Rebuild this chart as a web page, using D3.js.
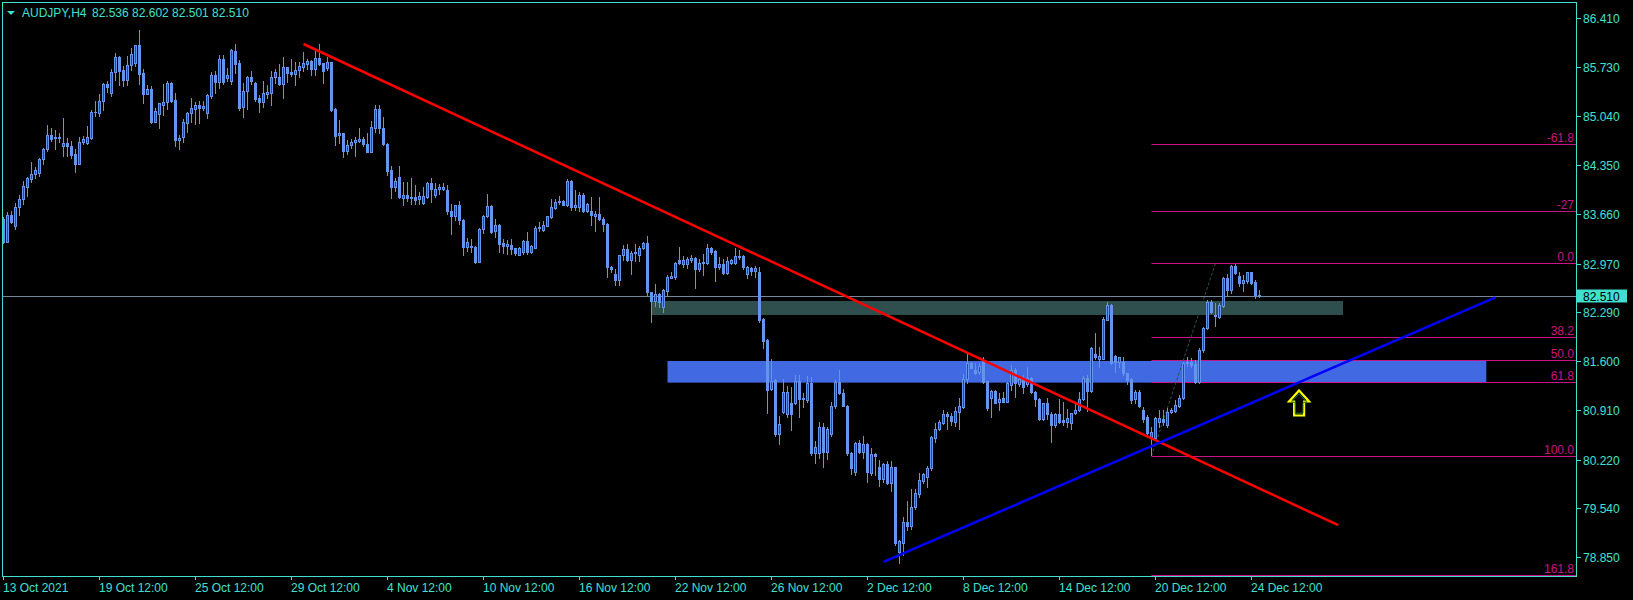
<!DOCTYPE html>
<html><head><meta charset="utf-8">
<script src="https://cdn.jsdelivr.net/npm/d3@7"></script>
<style>
body{margin:0;background:#000;overflow:hidden}
svg{display:block}
text{font-family:"Liberation Sans",Arial,sans-serif;font-size:12px}
</style>
</head><body>
<svg id="c" width="1633" height="600"></svg>
<script>
const symbolTitle = "AUDJPY,H4";
const headerOHLC = ["82.536","82.602","82.501","82.510"];
const lastPrice = 82.510;

const opens = [83.591,83.278,83.647,83.502,83.759,83.872,84.049,84.161,84.222,84.245,
84.432,84.572,84.768,84.750,84.741,84.624,84.657,84.620,84.508,84.371,
84.681,84.666,84.736,85.092,85.087,85.246,85.489,85.367,85.652,85.863,
85.686,85.545,85.751,85.788,86.036,85.638,85.353,85.414,84.961,85.073,
85.199,85.236,85.503,85.264,84.708,84.741,84.946,85.078,85.143,85.194,
85.152,85.087,85.321,85.610,85.517,85.840,85.578,85.536,85.947,85.784,
85.162,85.386,85.587,85.503,85.292,85.241,85.353,85.367,85.582,85.582,
85.484,85.722,85.657,85.634,85.681,85.722,85.765,85.811,85.699,85.854,
85.784,85.709,85.797,85.138,84.769,84.797,84.554,84.629,84.675,84.690,
84.718,84.648,84.540,84.876,85.138,84.872,84.647,84.283,84.049,84.180,
83.894,83.932,83.890,83.909,83.871,83.815,83.909,84.100,83.937,84.012,
84.021,84.002,83.708,83.642,83.787,83.582,83.207,83.221,83.207,82.997,
83.451,83.633,83.778,83.423,83.516,83.259,83.222,83.226,83.184,83.095,
83.128,83.287,83.128,83.194,83.469,83.441,83.502,83.624,83.754,83.829,
83.848,83.792,84.129,83.764,83.768,83.937,83.712,83.712,83.638,83.666,
83.596,83.525,82.922,82.824,82.740,83.086,83.175,83.020,83.123,83.095,
83.194,83.259,82.567,82.445,82.539,82.366,82.590,82.773,82.782,83.020,
82.964,82.964,83.025,83.048,82.899,82.978,82.983,83.184,83.147,82.918,
82.964,82.833,82.974,82.983,83.081,83.077,82.829,82.904,82.871,82.857,
82.193,81.898,81.211,81.333,80.580,80.893,80.861,81.019,81.010,81.328,
81.071,81.052,81.295,80.318,80.318,80.674,80.323,80.575,80.968,81.305,
81.150,80.977,80.309,80.042,80.458,80.323,80.444,80.028,80.295,80.122,
79.954,80.155,79.897,80.113,78.925,79.047,79.341,79.290,79.552,79.739,
79.926,79.982,80.099,80.519,80.645,80.739,80.861,80.833,80.748,80.889,
80.963,81.356,81.571,81.478,81.450,81.618,81.319,81.080,81.178,81.024,
81.090,81.034,81.263,81.478,81.281,81.370,81.281,81.370,81.174,81.066,
80.795,81.010,80.861,80.706,80.865,80.776,80.744,80.739,80.870,80.917,
81.066,81.370,81.183,81.702,81.637,81.637,82.179,82.385,81.679,81.595,
81.595,81.431,81.347,81.066,81.169,80.917,80.823,80.543,80.520,80.753,
80.786,80.702,80.893,80.907,80.978,81.080,81.571,81.595,81.562,81.314,
81.758,82.062,82.436,82.249,82.226,82.380,82.763,82.600,82.941,82.796,
82.702,82.726,82.848,82.707,82.536];

const highs = [83.628,83.694,83.707,83.820,83.932,84.124,84.190,84.390,84.325,84.451,
84.591,84.909,84.872,84.839,84.806,85.012,84.732,84.690,84.572,84.750,
84.764,84.900,85.124,85.251,85.349,85.508,85.531,85.699,85.924,85.886,
85.746,85.882,85.989,86.040,86.246,85.695,85.470,85.461,85.148,85.227,
85.489,85.531,85.512,85.358,84.768,84.998,85.101,85.292,85.236,85.251,
85.246,85.344,85.657,85.671,85.900,85.896,85.709,85.980,86.050,85.826,
85.498,85.606,85.671,85.512,85.330,85.526,85.480,85.671,85.695,85.769,
85.868,85.732,85.840,85.797,85.797,85.938,85.835,85.826,85.970,86.050,
85.790,85.863,85.800,85.148,84.984,84.800,84.699,84.718,84.741,84.867,
84.746,84.802,84.970,85.190,85.199,85.021,84.657,84.339,84.175,84.339,
84.119,84.119,84.171,84.072,83.979,84.049,84.114,84.171,84.096,84.091,
84.096,84.068,83.806,83.792,83.848,83.591,83.329,83.320,83.217,83.465,
83.652,83.946,83.787,83.600,83.526,83.320,83.301,83.315,83.190,83.198,
83.296,83.413,83.231,83.493,83.553,83.567,83.642,83.876,83.871,83.918,
83.862,84.161,84.143,84.002,83.979,83.955,83.825,83.899,83.712,83.899,
83.619,83.544,82.941,82.894,83.095,83.226,83.245,83.151,83.245,83.222,
83.268,83.357,82.576,82.684,82.553,82.609,82.815,82.852,82.997,83.203,
83.077,83.067,83.091,83.067,83.030,83.109,83.245,83.198,83.156,83.067,
83.030,83.067,83.039,83.184,83.156,83.091,82.941,82.927,82.941,82.927,
82.202,81.908,81.627,81.347,80.828,81.351,81.253,81.244,81.408,81.408,
81.150,81.398,81.384,80.482,80.748,80.739,80.674,81.024,81.337,81.478,
81.211,80.987,80.323,80.473,80.496,80.552,80.454,80.388,80.318,80.211,
80.178,80.206,80.206,80.122,79.093,79.421,79.640,79.813,79.804,80.028,
80.038,80.131,80.552,80.730,80.776,80.917,80.893,80.870,80.963,81.080,
81.422,81.711,81.595,81.571,81.571,81.655,81.328,81.197,81.197,81.150,
81.174,81.314,81.543,81.501,81.375,81.408,81.524,81.380,81.183,81.080,
81.019,81.080,80.893,80.879,81.066,81.034,80.926,80.870,81.010,81.174,
81.394,81.408,81.805,82.001,81.796,82.216,82.431,82.399,81.693,81.665,
81.655,81.440,81.361,81.197,81.197,80.964,80.847,80.683,80.823,80.917,
80.917,80.940,80.940,81.057,81.127,81.595,81.665,81.641,81.618,81.782,
82.076,82.459,82.459,82.413,82.420,82.777,82.824,82.950,82.964,82.857,
82.810,82.857,82.852,82.740,82.602];

const lows = [83.264,83.270,83.535,83.460,83.656,83.801,83.923,84.114,84.175,84.203,
84.362,84.553,84.694,84.582,84.671,84.484,84.484,84.456,84.260,84.362,
84.647,84.643,84.722,85.045,85.045,85.124,85.381,85.321,85.545,85.480,
85.466,85.480,85.686,85.746,85.494,85.227,85.349,84.937,84.950,84.876,
85.059,85.143,85.236,84.624,84.582,84.676,84.816,84.951,84.932,84.937,
85.124,85.017,85.292,85.367,85.428,85.484,85.531,85.484,85.643,85.120,
85.031,85.138,85.489,85.250,85.096,85.171,85.292,85.199,85.503,85.480,
85.292,85.512,85.596,85.475,85.582,85.671,85.699,85.610,85.615,85.760,
85.508,85.690,85.115,84.633,84.657,84.470,84.512,84.596,84.484,84.671,
84.615,84.535,84.531,84.820,84.806,84.633,84.213,83.885,83.988,83.885,
83.797,83.843,83.806,83.811,83.802,83.811,83.895,83.834,83.909,83.946,
84.002,83.661,83.390,83.582,83.521,83.091,83.151,83.137,82.978,82.990,
83.394,83.619,83.399,83.348,83.133,83.114,83.100,83.100,83.095,83.086,
83.100,83.100,83.114,83.184,83.422,83.427,83.493,83.605,83.740,83.801,
83.787,83.782,83.726,83.726,83.708,83.698,83.698,83.516,83.432,83.582,
83.432,82.787,82.852,82.665,82.665,83.020,83.002,82.824,83.006,83.011,
83.170,82.530,82.150,82.380,82.366,82.296,82.525,82.768,82.759,82.964,
82.918,82.908,82.993,82.628,82.871,82.810,82.964,83.105,82.731,82.890,
82.819,82.819,82.964,82.969,83.034,82.890,82.763,82.810,82.787,82.156,
81.791,80.879,81.197,80.552,80.444,80.879,80.814,80.636,81.005,80.814,
80.963,81.024,80.286,80.169,80.239,80.113,80.234,80.552,80.940,81.141,
80.973,80.286,80.019,80.005,80.309,80.239,79.902,80.005,80.005,79.855,
79.902,79.879,79.781,79.023,78.775,78.883,79.234,79.248,79.524,79.702,
79.888,79.842,80.075,80.472,80.636,80.720,80.645,80.706,80.692,80.655,
80.940,81.291,81.501,81.422,81.422,81.291,80.917,80.823,81.010,80.917,
81.030,81.029,81.197,81.094,81.258,81.150,81.258,81.160,80.978,80.776,
80.776,80.786,80.463,80.683,80.730,80.706,80.683,80.646,80.861,80.907,
81.057,80.907,81.174,81.637,81.515,81.632,82.174,81.562,81.454,81.525,
81.408,81.281,81.010,81.010,80.964,80.753,80.543,80.286,80.496,80.683,
80.706,80.683,80.870,80.893,80.964,81.066,81.534,81.524,81.291,81.300,
81.735,82.048,82.282,82.100,82.200,82.366,82.534,82.562,82.824,82.661,
82.590,82.702,82.684,82.492,82.501];

const closes = [83.278,83.647,83.553,83.759,83.876,84.058,84.171,84.222,84.283,84.432,
84.572,84.768,84.718,84.727,84.735,84.657,84.624,84.497,84.371,84.671,
84.718,84.741,85.092,85.090,85.246,85.484,85.452,85.652,85.863,85.676,
85.545,85.751,85.905,86.036,85.634,85.353,85.414,84.961,85.110,85.218,
85.236,85.498,85.250,84.708,84.736,84.956,85.082,85.148,85.199,85.152,
85.180,85.330,85.610,85.517,85.840,85.522,85.615,85.966,85.774,85.152,
85.395,85.587,85.531,85.278,85.241,85.358,85.381,85.587,85.652,85.484,
85.722,85.648,85.634,85.686,85.741,85.779,85.811,85.704,85.849,85.774,
85.671,85.793,85.129,84.760,84.802,84.554,84.629,84.675,84.699,84.718,
84.643,84.540,84.886,85.138,84.872,84.647,84.273,84.049,84.129,83.899,
83.932,83.890,83.909,83.862,83.913,83.923,84.100,84.021,84.021,84.044,
84.049,83.712,83.642,83.787,83.582,83.207,83.273,83.198,82.997,83.455,
83.633,83.778,83.418,83.516,83.250,83.222,83.241,83.179,83.123,83.189,
83.287,83.128,83.222,83.469,83.488,83.516,83.633,83.768,83.834,83.848,
83.796,84.129,83.768,83.796,83.937,83.712,83.811,83.647,83.670,83.596,
83.525,82.918,82.890,82.740,83.086,83.175,83.020,83.123,83.133,83.189,
83.259,82.567,82.445,82.539,82.436,82.600,82.787,82.801,82.983,82.983,
83.020,83.034,83.048,82.894,82.978,82.997,83.184,83.133,82.918,82.964,
82.833,83.002,83.020,83.081,83.063,82.927,82.927,82.866,82.913,82.179,
81.889,81.197,81.328,80.580,80.720,81.164,81.169,80.861,81.328,81.071,
81.080,81.295,80.318,80.393,80.674,80.323,80.650,80.968,81.305,81.150,
80.977,80.309,80.099,80.458,80.323,80.435,80.042,80.295,80.276,79.954,
80.155,79.888,80.113,79.047,79.075,79.346,79.290,79.552,79.748,79.935,
80.019,80.099,80.533,80.645,80.748,80.861,80.837,80.767,80.898,80.973,
81.356,81.571,81.510,81.440,81.538,81.309,80.940,81.178,81.019,81.071,
81.034,81.291,81.478,81.291,81.351,81.244,81.370,81.174,81.066,80.795,
81.010,80.861,80.706,80.865,80.753,80.753,80.809,80.870,80.917,81.066,
81.370,81.188,81.791,81.655,81.674,82.188,82.385,81.571,81.595,81.655,
81.431,81.338,81.057,81.169,80.978,80.795,80.590,80.613,80.800,80.800,
80.753,80.893,80.921,80.987,81.080,81.571,81.595,81.548,81.314,81.758,
82.062,82.427,82.296,82.235,82.389,82.763,82.600,82.936,82.838,82.693,
82.735,82.848,82.693,82.530,82.510];

const priceTicks = [86.410,85.730,85.040,84.350,83.660,82.970,82.290,81.600,80.910,80.220,79.540,78.850];
const timeTickBars = [0,24,48,72,96,120,144,168,192,216,240,264,288,312];
const timeLabels = ["13 Oct 2021","19 Oct 12:00","25 Oct 12:00","29 Oct 12:00","4 Nov 12:00","10 Nov 12:00","16 Nov 12:00","22 Nov 12:00","26 Nov 12:00","2 Dec 12:00","8 Dec 12:00","14 Dec 12:00","20 Dec 12:00","24 Dec 12:00"];

const fibLevels = [-61.8,-27,0,38.2,50,61.8,100,161.8];
const fibLabels = ["-61.8","-27","0.0","38.2","50.0","61.8","100.0","161.8"];
const fibStartBar = 287, fibStartPrice = 80.271;
const fibEndBar = 303, fibEndPrice = 82.974;

const redTrendBars = [75, 333.7];
const redTrendPrices = [86.05, 79.30];
const blueTrendBars = [220, 373];
const blueTrendPrices = [78.785, 82.495];

const grayZoneBars = [162, 335];
const grayZonePrices = [82.445, 82.249];
const blueZoneBars = [166, 370.7];
const blueZonePrices = [81.604, 81.300];

const arrowBar = 323.9, arrowPrice = 81.19;

// ---------- drawing ----------
const W = 1633, H = 600;
const plotL = 3, plotR = 1576, plotT = 2, plotB = 576;
const AX = "#40E0D0";
const svg = d3.select("#c");
svg.append("rect").attr("width",W).attr("height",H).attr("fill","#000");

const x = d3.scaleLinear().domain([0,1]).range([3.5,7.5]);
const y = d3.scaleLinear().domain([78.588,86.639]).range([plotB,plotT]);

svg.append("clipPath").attr("id","plot").append("rect")
  .attr("x",plotL).attr("y",plotT+1).attr("width",plotR-plotL).attr("height",plotB-plotT-1);
const g = svg.append("g").attr("clip-path","url(#plot)");

// background zones
g.append("rect").attr("x",x(grayZoneBars[0])-0.5).attr("width",x(grayZoneBars[1])-x(grayZoneBars[0]))
  .attr("y",y(grayZonePrices[0])).attr("height",y(grayZonePrices[1])-y(grayZonePrices[0]))
  .attr("fill","#2F4F4F");
g.append("rect").attr("x",x(blueZoneBars[0])).attr("width",x(blueZoneBars[1])-x(blueZoneBars[0]))
  .attr("y",y(blueZonePrices[0])).attr("height",y(blueZonePrices[1])-y(blueZonePrices[0]))
  .attr("fill","#4169E1");

// fib levels
const fibRange = fibEndPrice - fibStartPrice;
fibLevels.forEach((lv,k)=>{
  const p = fibEndPrice - lv/100*fibRange;
  const yy = Math.round(y(p))+0.5;
  g.append("line").attr("x1",x(fibStartBar)).attr("x2",plotR).attr("y1",yy).attr("y2",yy)
    .attr("stroke","#C71585").attr("stroke-width",1);
  g.append("text").attr("x",plotR-2).attr("y",yy-3).attr("text-anchor","end")
    .attr("fill","#C71585").text(fibLabels[k]);
});
g.append("line").attr("x1",x(fibStartBar)).attr("y1",y(fibStartPrice))
  .attr("x2",x(fibEndBar)).attr("y2",y(fibEndPrice))
  .attr("stroke","#2F4F4F").attr("stroke-width",1).attr("stroke-dasharray","3,2");

// current price line
const yl = Math.round(y(lastPrice))+0.5;
g.append("line").attr("x1",plotL).attr("x2",plotR).attr("y1",yl).attr("y2",yl)
  .attr("stroke","#778899").attr("stroke-width",1);

// candles
const CF = "#6495ED", BULL_IN = "#1a3cff";
const cg = g.append("g").attr("shape-rendering","crispEdges");
opens.forEach((o,i)=>{
  const c = closes[i], hi = highs[i], lo = lows[i];
  const cx = x(i);
  const yh = Math.round(y(hi)), ylo = Math.round(y(lo));
  cg.append("rect").attr("x",cx-0.5).attr("width",1).attr("y",yh).attr("height",Math.max(1,ylo-yh+1)).attr("fill",CF);
  const yt = Math.round(y(Math.max(o,c))), yb = Math.round(y(Math.min(o,c)));
  const h = Math.max(1,yb-yt+1);
  cg.append("rect").attr("x",cx-1.5).attr("width",3).attr("y",yt).attr("height",h).attr("fill",CF);
  if (c > o && h >= 3) {
    cg.append("rect").attr("x",cx-0.5).attr("width",1).attr("y",yt+1).attr("height",h-2).attr("fill",BULL_IN);
  }
});

// trendlines
g.append("line").attr("x1",x(redTrendBars[0])).attr("y1",y(redTrendPrices[0]))
  .attr("x2",x(redTrendBars[1])).attr("y2",y(redTrendPrices[1]))
  .attr("stroke","#FF0000").attr("stroke-width",2.5);
g.append("line").attr("x1",x(blueTrendBars[0])).attr("y1",y(blueTrendPrices[0]))
  .attr("x2",x(blueTrendBars[1])).attr("y2",y(blueTrendPrices[1]))
  .attr("stroke","#0000FF").attr("stroke-width",2.5);

// arrow
const ax = x(arrowBar), ay = y(arrowPrice);
const arrowPath = (s)=>`M0,0 L${10*s},${11*s} L${5*s},${11*s} L${5*s},${25*s} L${-5*s},${25*s} L${-5*s},${11*s} L${-10*s},${11*s} Z`;
g.append("path").attr("d",arrowPath(1)).attr("transform",`translate(${ax},${ay})`)
  .attr("fill","none").attr("stroke","#FFFF00").attr("stroke-width",2.2).attr("stroke-linejoin","miter");
g.append("path").attr("d",arrowPath(0.78)).attr("transform",`translate(${ax},${ay+3.2})`)
  .attr("fill","none").attr("stroke","#1f7a1f").attr("stroke-width",1);

// frame
const fr = svg.append("g").attr("shape-rendering","crispEdges");
fr.append("line").attr("x1",2.5).attr("x2",2.5).attr("y1",2).attr("y2",plotB).attr("stroke",AX);
fr.append("line").attr("x1",2).attr("x2",plotR+1).attr("y1",2.5).attr("y2",2.5).attr("stroke",AX);
fr.append("line").attr("x1",plotR+0.5).attr("x2",plotR+0.5).attr("y1",2).attr("y2",plotB+1).attr("stroke",AX);
fr.append("line").attr("x1",2).attr("x2",plotR+1).attr("y1",plotB+0.5).attr("y2",plotB+0.5).attr("stroke",AX);

// price axis
priceTicks.forEach(p=>{
  const yy = Math.round(y(p))+0.5;
  fr.append("line").attr("x1",plotR+1).attr("x2",plotR+5).attr("y1",yy).attr("y2",yy).attr("stroke",AX);
  svg.append("text").attr("x",1583).attr("y",yy+4.3).attr("fill",AX).text(p.toFixed(3));
});
// last price box
svg.append("rect").attr("x",plotR+1).attr("y",Math.round(y(lastPrice))-6.5).attr("width",50).attr("height",13).attr("fill",AX);
svg.append("text").attr("x",1583).attr("y",y(lastPrice)+4.3).attr("fill","#000").text(lastPrice.toFixed(3));

// time axis
timeTickBars.forEach((b,k)=>{
  const xx = Math.round(x(b)-0.5)+0.5;
  fr.append("line").attr("x1",xx).attr("x2",xx).attr("y1",plotB).attr("y2",plotB+4).attr("stroke",AX);
  svg.append("text").attr("x",xx-0.5).attr("y",592).attr("fill",AX).text(timeLabels[k]);
});

// header
svg.append("path").attr("d","M7,11 L15,11 L11,15 Z").attr("fill",AX);
svg.append("text").attr("x",22).attr("y",16.5).attr("fill",AX).text(symbolTitle);
svg.append("text").attr("x",92).attr("y",16.5).attr("fill",AX).text(headerOHLC.join(" "));
</script>
</body></html>
